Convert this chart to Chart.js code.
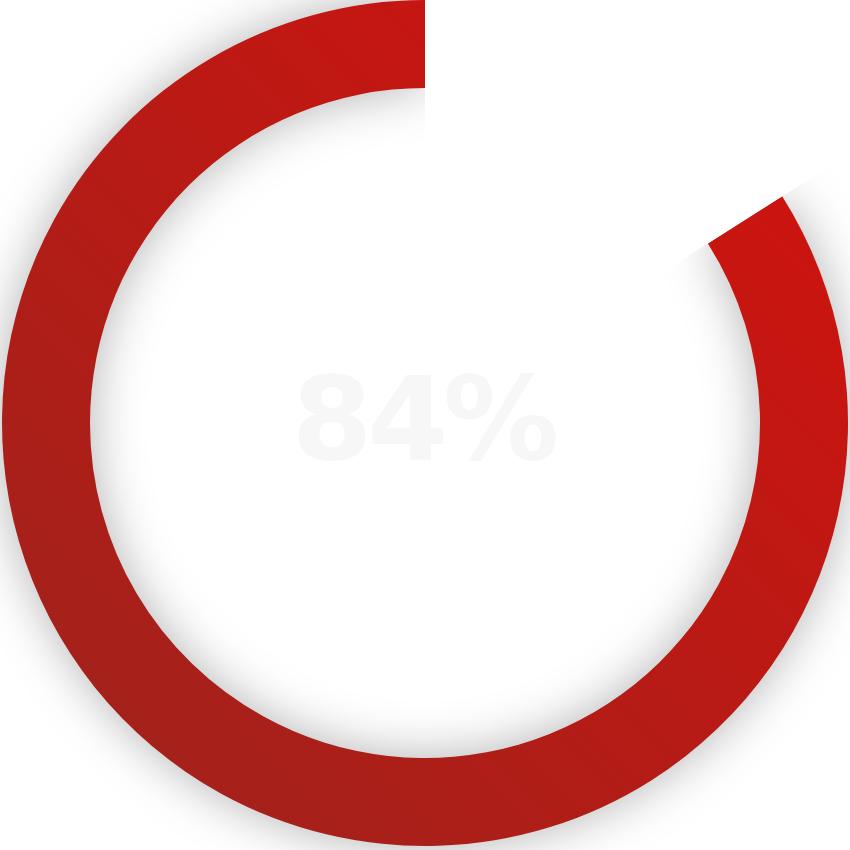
<!DOCTYPE html>
<html>
<head>
<meta charset="utf-8">
<script src="https://cdn.jsdelivr.net/npm/chart.js@4/dist/chart.umd.min.js"></script>
<style>
  html, body { margin: 0; padding: 0; background: #ffffff; }
  #wrap { width: 850px; height: 850px; position: relative; }
</style>
</head>
<body>
<div id="wrap"><canvas id="c"></canvas></div>
<script>
// ---- data ----
const labels = ['Progress', 'Remaining'];
const values = [84, 16];
const centerLabel = '84%';

// ---- styles ----
const gradientStart = '#d4110d';
const gradientEnd = '#9c241d';
const gapColor = '#ffffff';
const shadowColor = 'rgba(0,0,0,0.30)';
const textColor = '#f7f7f7';

class ShadowDoughnutController extends Chart.DoughnutController {
  draw() {
    const ctx = this.chart.ctx;
    const arcs = this._cachedMeta.data;
    // filled arc, with soft shadow
    ctx.save();
    ctx.shadowColor = shadowColor;
    ctx.shadowBlur = 50;
    ctx.shadowOffsetX = 0;
    ctx.shadowOffsetY = 0;
    arcs[0].draw(ctx);
    ctx.restore();
    // remaining part drawn as a full white wedge that masks the shadow
    const w = arcs[1];
    const inner = w.innerRadius, outer = w.outerRadius;
    w.innerRadius = 0;
    w.outerRadius = this.chart.width * 1.5;
    ctx.save();
    w.draw(ctx);
    ctx.restore();
    w.innerRadius = inner;
    w.outerRadius = outer;
  }
}
ShadowDoughnutController.id = 'shadowDoughnut';
ShadowDoughnutController.defaults = Chart.DoughnutController.defaults;
ShadowDoughnutController.overrides = Chart.DoughnutController.overrides;
Chart.register(ShadowDoughnutController);

const centerText = {
  id: 'centerText',
  afterDatasetsDraw(chart) {
    const arc = chart.getDatasetMeta(0).data[0];
    if (!arc) return;
    const ctx = chart.ctx;
    ctx.save();
    ctx.fillStyle = textColor;
    ctx.font = 'bold 116px "DejaVu Sans", sans-serif';
    ctx.letterSpacing = '-5px';
    ctx.textAlign = 'center';
    ctx.textBaseline = 'middle';
    ctx.fillText(centerLabel, arc.x - 2, arc.y + 6);
    ctx.restore();
  }
};

const total = values.reduce((a, b) => a + b, 0);

new Chart(document.getElementById('c'), {
  type: 'shadowDoughnut',
  data: {
    labels: labels,
    datasets: [{
      data: values,
      borderWidth: 0,
      backgroundColor: (c) => {
        if (c.dataIndex === 1) return gapColor;
        const chart = c.chart;
        const g = chart.ctx.createLinearGradient(chart.width, 0, 0, chart.height);
        g.addColorStop(0, gradientStart);
        g.addColorStop(1, gradientEnd);
        return g;
      }
    }]
  },
  options: {
    responsive: true,
    maintainAspectRatio: false,
    animation: false,
    events: [],
    rotation: values[1] / total * 360,
    radius: 423,
    cutout: 335,
    layout: { padding: { top: 0, bottom: 4, left: 0, right: 0 } },
    plugins: {
      legend: { display: false },
      tooltip: { enabled: false }
    }
  },
  plugins: [centerText]
});
</script>
</body>
</html>
